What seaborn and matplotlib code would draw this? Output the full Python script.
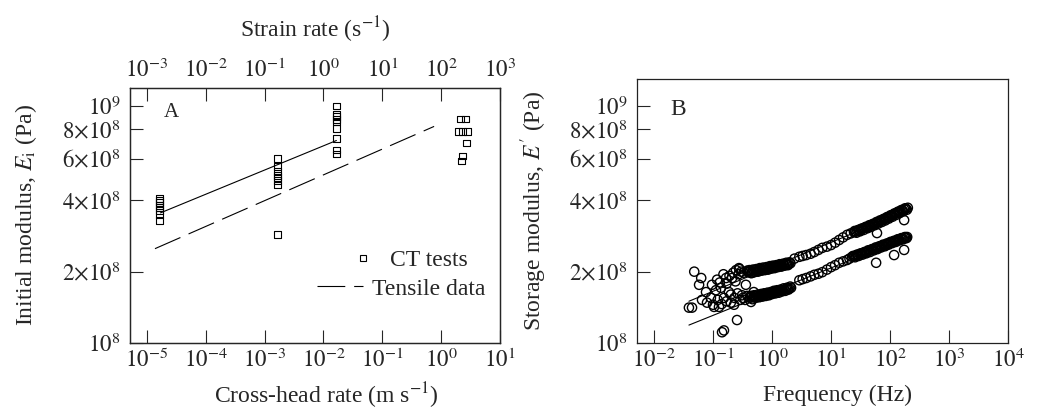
import numpy as np
import pandas as pd
import seaborn as sns
import matplotlib.pyplot as plt
from matplotlib.lines import Line2D

# ---- panel A: CT tests, cross-head rate (m/s) vs initial modulus (Pa)
ct_rate = [1.66e-5] * 8 + [1.66e-3] * 8 + [1.66e-2] * 9 + \
          [2.1, 2.55, 1.94, 2.27, 2.76, 2.65, 2.27, 2.18]
ct_modulus = [4.08e8, 3.98e8, 3.90e8, 3.82e8, 3.72e8, 3.62e8, 3.50e8, 3.30e8,
              6.03e8, 5.53e8, 5.27e8, 5.11e8, 5.01e8, 4.87e8, 4.64e8, 2.88e8,
              1.0e9, 9.17e8, 8.99e8, 8.73e8, 8.56e8, 8.07e8, 7.26e8, 6.52e8, 6.27e8,
              8.81e8, 8.81e8, 7.77e8, 7.77e8, 7.77e8, 6.98e8, 6.15e8, 5.86e8]

# fitted lines
ct_fit_rate = [1.7e-5, 1.66e-2]
ct_fit_modulus = [3.54e8, 7.15e8]
tensile_rate = [1.37e-5, 0.76]
tensile_modulus = [2.5e8, 8.2e8]

# ---- panel B: DMA frequency sweeps, frequency (Hz) vs storage modulus (1e8 Pa)
scatter_f = [0.039, 0.044, 0.048, 0.058, 0.063, 0.065, 0.076, 0.079, 0.092, 0.096,
             0.10, 0.104, 0.112, 0.117, 0.12, 0.126, 0.13, 0.136, 0.14, 0.142,
             0.15, 0.153, 0.153, 0.166, 0.17, 0.17, 0.186, 0.19, 0.20, 0.20,
             0.21, 0.22, 0.227, 0.23, 0.24, 0.245, 0.255, 0.26, 0.27, 0.275,
             0.28, 0.29, 0.30, 0.31, 0.32, 0.33, 0.35, 0.36, 0.38, 0.38,
             0.41, 0.44, 0.49]
scatter_E = [1.41, 1.41, 2.00, 1.76, 1.88, 1.52, 1.64, 1.48, 1.55, 1.76,
             1.45, 1.42, 1.67, 1.85, 1.52, 1.42, 1.80, 1.71, 1.46, 1.11,
             1.95, 1.55, 1.13, 1.88, 1.78, 1.50, 1.64, 1.92, 1.48, 1.60,
             1.88, 1.98, 1.45, 1.55, 1.82, 2.03, 1.25, 1.62, 1.95, 2.07,
             2.05, 1.52, 2.00, 1.59, 1.55, 1.98, 1.52, 1.76, 1.58, 2.02,
             2.00, 1.49, 1.64]

# first sweep, upper and lower specimen
upper_f = [0.40, 0.43, 0.46, 0.49, 0.52, 0.56, 0.60, 0.64, 0.68, 0.73, 0.78, 0.83, 0.89,
           0.95, 1.00, 1.07, 1.14, 1.22, 1.30, 1.39, 1.48, 1.58, 1.69, 1.80, 1.92, 2.05,
           2.4, 2.9, 3.3, 3.8, 4.5, 5.2, 6.1, 7.1, 8.5, 10.0, 11.7, 13.7, 16.0, 18.7, 21.5,
           24.5, 26, 28, 30, 32, 34.5, 37, 40, 43, 46, 49, 53, 57, 61, 65, 70, 75, 80, 86,
           92, 99, 106, 114, 122, 131, 140, 150, 161, 173, 186, 200,
           60, 173]
upper_E = [1.99, 2.01, 1.98, 2.02, 2.03, 2.01, 2.04, 2.05, 2.03, 2.06, 2.07, 2.05, 2.08,
           2.09, 2.08, 2.10, 2.11, 2.10, 2.12, 2.13, 2.12, 2.14, 2.15, 2.14, 2.16, 2.17,
           2.27, 2.31, 2.33, 2.35, 2.38, 2.42, 2.47, 2.52, 2.55, 2.59, 2.65, 2.72, 2.79, 2.86, 2.90,
           2.94, 2.95, 2.97, 3.00, 3.01, 3.04, 3.06, 3.08, 3.10, 3.13, 3.15, 3.17, 3.20, 3.23,
           3.25, 3.28, 3.30, 3.33, 3.36, 3.39, 3.42, 3.45, 3.48, 3.51, 3.54, 3.57, 3.60, 3.63,
           3.66, 3.69, 3.72,
           2.91, 3.30]

lower_f = [0.42, 0.45, 0.48, 0.51, 0.55, 0.59, 0.63, 0.67, 0.71, 0.76, 0.81, 0.86, 0.92,
           0.98, 1.04, 1.11, 1.18, 1.26, 1.34, 1.43, 1.52, 1.62, 1.73, 1.84, 1.96, 2.10,
           2.9, 3.3, 3.8, 4.5, 5.2, 6.1, 7.1, 8.5, 10.0, 11.7, 13.7, 16.0, 18.7, 20.5,
           22.7, 24.5, 26.5, 28.5, 30.5, 33, 35.5, 38, 41, 44, 47.5, 51, 55, 59, 63.5, 68,
           73, 79, 85, 91, 98, 105, 113, 121, 130, 140, 150, 161, 173, 185, 195,
           58, 117, 173]
lower_E = [1.55, 1.57, 1.56, 1.58, 1.58, 1.57, 1.59, 1.60, 1.59, 1.61, 1.61, 1.60, 1.62,
           1.63, 1.63, 1.64, 1.65, 1.65, 1.66, 1.67, 1.67, 1.68, 1.69, 1.69, 1.70, 1.71,
           1.84, 1.86, 1.88, 1.91, 1.94, 1.96, 1.99, 2.04, 2.09, 2.13, 2.18, 2.21, 2.24, 2.27,
           2.31, 2.32, 2.34, 2.35, 2.37, 2.38, 2.40, 2.41, 2.43, 2.45, 2.46, 2.48, 2.50, 2.51,
           2.53, 2.55, 2.57, 2.58, 2.60, 2.62, 2.64, 2.66, 2.68, 2.69, 2.71, 2.73, 2.75, 2.76,
           2.78, 2.79, 2.80,
           2.18, 2.35, 2.47]

# repeat sweeps over the dense ranges
upper_rep_f = [0.415, 0.445, 0.475, 0.505, 0.54, 0.58, 0.62, 0.66, 0.705, 0.755, 0.805,
               0.86, 0.92, 0.975, 1.035, 1.105, 1.18, 1.26, 1.345, 1.435, 1.53, 1.635,
               1.745, 1.86, 1.985,
               25.2, 27, 29, 31, 33, 35.7, 38.5, 41.5, 44.5, 47.5, 51, 55, 59, 63, 67.5,
               72.5, 77.5, 83, 89, 95.5, 102.5, 110, 118, 126.5, 135.5, 145, 155.5, 167,
               179.5, 193]
upper_rep_E = [2.03, 1.97, 2.04, 1.99, 2.05, 2.00, 2.07, 2.02, 2.08, 2.03, 2.09,
               2.04, 2.11, 2.06, 2.12, 2.07, 2.13, 2.09, 2.15, 2.10, 2.16, 2.12,
               2.18, 2.13, 2.19,
               2.97, 2.92, 3.00, 2.96, 3.04, 3.00, 3.09, 3.05, 3.14, 3.09, 3.18, 3.14, 3.24,
               3.19, 3.29, 3.24, 3.34, 3.29, 3.40, 3.35, 3.46, 3.41, 3.52, 3.47, 3.58, 3.53,
               3.64, 3.59, 3.70, 3.65]
lower_rep_f = [0.435, 0.465, 0.495, 0.53, 0.57, 0.61, 0.65, 0.69, 0.735, 0.785, 0.835,
               0.89, 0.95, 1.01, 1.075, 1.145, 1.22, 1.30, 1.385, 1.475, 1.57, 1.675,
               1.785, 1.90, 2.03,
               23.6, 25.5, 27.5, 29.5, 31.7, 34.2, 36.7, 39.5, 42.5, 45.7, 49.2, 53, 57,
               61.2, 65.7, 70.5, 76, 82, 88, 94.5, 101.5, 109, 117, 125.5, 135, 145, 155.5,
               167, 179, 190]
lower_rep_E = [1.58, 1.53, 1.59, 1.55, 1.60, 1.56, 1.61, 1.57, 1.62, 1.58, 1.63,
               1.59, 1.64, 1.61, 1.66, 1.62, 1.67, 1.63, 1.68, 1.65, 1.70, 1.66,
               1.71, 1.68, 1.73,
               2.33, 2.30, 2.36, 2.33, 2.39, 2.36, 2.42, 2.39, 2.46, 2.42, 2.49, 2.46, 2.53,
               2.49, 2.56, 2.53, 2.60, 2.56, 2.63, 2.60, 2.67, 2.64, 2.70, 2.67, 2.74, 2.71,
               2.77, 2.74, 2.80, 2.77]

fit_f = [0.039, 200]
fit_upper_E = [1.50e8, 3.62e8]
fit_lower_E = [1.19e8, 2.80e8]

# ---- ticks / text
y_ticks = [1e8, 2e8, 4e8, 6e8, 8e8, 1e9]
y_tick_labels = ['$10^{8}$', r'$2{\times}10^{8}$', r'$4{\times}10^{8}$',
                 r'$6{\times}10^{8}$', r'$8{\times}10^{8}$', '$10^{9}$']
a_ticks = [1e-5, 1e-4, 1e-3, 1e-2, 1e-1, 1e0, 1e1]
a_tick_labels = ['$10^{-5}$', '$10^{-4}$', '$10^{-3}$', '$10^{-2}$', '$10^{-1}$', '$10^{0}$', '$10^{1}$']
top_ticks = [1e-3, 1e-2, 1e-1, 1e0, 1e1, 1e2, 1e3]
top_tick_labels = ['$10^{-3}$', '$10^{-2}$', '$10^{-1}$', '$10^{0}$', '$10^{1}$', '$10^{2}$', '$10^{3}$']
b_ticks = [1e-2, 1e-1, 1e0, 1e1, 1e2, 1e3, 1e4]
b_tick_labels = ['$10^{-2}$', '$10^{-1}$', '$10^{0}$', '$10^{1}$', '$10^{2}$', '$10^{3}$', '$10^{4}$']
legend_labels = ['CT tests', 'Tensile data']

sns.set_style("ticks")
plt.rcParams['font.family'] = ['Liberation Serif', 'DejaVu Serif']
plt.rcParams['mathtext.fontset'] = 'stix'
plt.rcParams['axes.linewidth'] = 0.9

FS = 16.5
fig = plt.figure(figsize=(10.44, 4.12), dpi=100)
axA = fig.add_axes([0.1245, 0.1675, 0.3544, 0.619])
axB = fig.add_axes([0.6102, 0.1675, 0.3554, 0.6408])

# panel A
sns.scatterplot(x=ct_rate, y=ct_modulus, ax=axA, marker='s', s=25,
                facecolor='none', edgecolor='k', linewidth=0.8, legend=False)
sns.lineplot(x=ct_fit_rate, y=ct_fit_modulus, ax=axA, color='k', linewidth=0.8)
sns.lineplot(x=tensile_rate, y=tensile_modulus, ax=axA, color='k', linewidth=0.8,
             linestyle=(0, (25, 8)))
axA.set_xscale('log')
axA.set_yscale('log')
axA.set_xlim(10 ** -5.288, 10 ** 1)
axA.set_ylim(1e8, 10 ** 9.076)

top = axA.twiny()
top.set_xscale('log')
top.set_xlim(10 ** -3.288, 10 ** 3)
top.set_xticks(top_ticks)
top.set_xticklabels(top_tick_labels)
top.minorticks_off()
top.tick_params(axis='x', direction='in', length=9.4, width=0.8, labelsize=FS, pad=4)
top.set_xlabel('Strain rate (s$^{-1}$)', fontsize=FS + 0.5)
top.xaxis.set_label_coords(0.5, 1.2)

# panel B
sns.scatterplot(x=scatter_f, y=np.array(scatter_E) * 1e8, ax=axB, marker='o', s=44,
                facecolor='none', edgecolor='k', linewidth=1.0, legend=False)
for f, e in [(upper_f, upper_E), (lower_f, lower_E),
             (upper_rep_f, upper_rep_E), (lower_rep_f, lower_rep_E)]:
    band = pd.DataFrame({'freq': f, 'E': np.array(e) * 1e8})
    sns.scatterplot(data=band, x='freq', y='E', ax=axB, marker='o', s=44,
                    facecolor='none', edgecolor='k', linewidth=1.0, legend=False)
sns.lineplot(x=fit_f, y=fit_upper_E, ax=axB, color='k', linewidth=0.8)
sns.lineplot(x=fit_f, y=fit_lower_E, ax=axB, color='k', linewidth=0.8)
axB.set_xscale('log')
axB.set_yscale('log')
axB.set_xlim(10 ** -2.288, 10 ** 4)
axB.set_ylim(1e8, 10 ** 9.114)

for ax, xt, xl in [(axA, a_ticks, a_tick_labels), (axB, b_ticks, b_tick_labels)]:
    ax.set_xticks(xt)
    ax.set_xticklabels(xl)
    ax.set_yticks(y_ticks)
    ax.set_yticklabels(y_tick_labels)
    ax.minorticks_off()
    ax.tick_params(axis='x', direction='in', length=9.4, width=0.8, labelsize=FS, pad=4,
                   top=False)
    ax.tick_params(axis='y', direction='in', length=9.4, width=0.8, labelsize=FS, pad=7,
                   right=False)
    for sp in ax.spines.values():
        sp.set_visible(True)
        sp.set_color('#222222')

axA.set_xlabel('Cross-head rate (m s$^{-1}$)', fontsize=FS + 0.5)
axA.set_ylabel(r'Initial modulus, $E_{\mathrm{i}}$ (Pa)', fontsize=FS + 0.5)
axA.xaxis.set_label_coords(0.532, -0.149)
axA.yaxis.set_label_coords(-0.245, 0.5)
axB.set_xlabel('Frequency (Hz)', fontsize=FS + 0.5)
axB.set_ylabel("Storage modulus, $E'$ (Pa)", fontsize=FS + 0.5)
axB.xaxis.set_label_coords(0.539, -0.158)
axB.yaxis.set_label_coords(-0.237, 0.5)

axA.text(0.113, 0.902, 'A', transform=axA.transAxes, fontsize=15, ha='center', va='center')
axB.text(0.11, 0.883, 'B', transform=axB.transAxes, fontsize=17, ha='center', va='center')

# legend drawn as two pieces so the marker and line sit like the original
leg1 = axA.legend(handles=[Line2D([], [], ls='none', marker='s', ms=5, mfc='none',
                                  mec='k', mew=0.8)],
                  labels=[legend_labels[0]], loc='center left',
                  bbox_to_anchor=(0.6135, 0.325), frameon=False, handlelength=0.5,
                  handletextpad=0.9, borderpad=0, borderaxespad=0, fontsize=FS + 0.5)
axA.add_artist(leg1)
axA.legend(handles=[Line2D([], [], color='k', lw=0.8, ls=(0, (25, 8)))],
           labels=[legend_labels[1]], loc='center left',
           bbox_to_anchor=(0.505, 0.212), frameon=False, handlelength=1.95,
           handletextpad=0.38, borderpad=0, borderaxespad=0, fontsize=FS + 0.5)

fig.savefig('out.png', dpi=100)
